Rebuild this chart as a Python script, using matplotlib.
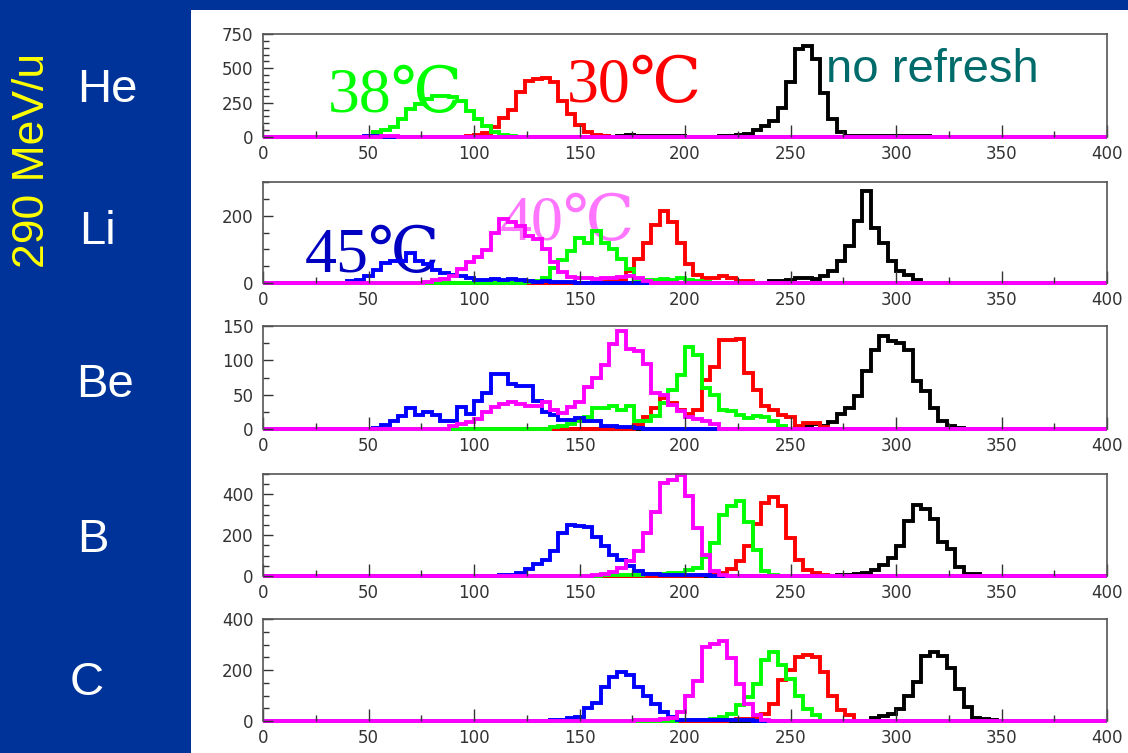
import numpy as np
import matplotlib
matplotlib.use("Agg")
import matplotlib.pyplot as plt
from matplotlib.ticker import MultipleLocator
from matplotlib.patches import Rectangle

# histogram counts, bins of width 4 from 0 to 400
# each series: first bin start, then counts

# He
he_black_x0 = 160
he_black = [5, 0, 10, 15, 10, 10, 8, 5, 5, 5, 3, 0, 0, 3, 5, 10, 15, 20, 50, 80,
            120, 210, 400, 640, 660, 570, 320, 130, 40, 10, 5, 5, 5, 5, 5, 5, 5, 5, 5]
he_red_x0 = 96
he_red = [5, 15, 30, 70, 140, 200, 330, 410, 420, 430, 400, 260, 170, 90, 40, 15, 5]
he_green_x0 = 52
he_green = [36, 50, 71, 130, 202, 240, 274, 298, 298, 290, 262, 190, 131, 83, 36, 12, 5]
he_blue_x0 = 48
he_blue = [5, 8, 3]
he_magenta_x0 = 28
he_magenta = [3, 3, 3, 3, 3, 3, 3, 5, 5, 3]

# Li
li_black_x0 = 240
li_black = [6, 6, 8, 14, 14, 11, 20, 35, 65, 109, 184, 272, 163, 119, 65, 35, 25, 8]
li_red_x0 = 160
li_red = [3, 5, 8, 37, 70, 119, 172, 214, 182, 119, 55, 25, 16, 16, 20, 14, 6, 6]
li_green_x0 = 124
li_green = [3, 5, 15, 45, 67, 96, 135, 120, 155, 120, 100, 72, 42, 13, 10, 8, 12, 10, 15, 10, 5, 3]
li_blue_x0 = 40
li_blue = [5, 10, 20, 40, 60, 65, 65, 90, 65, 55, 40, 30, 25, 20, 15, 8, 10, 12, 10, 12,
           8, 5, 3, 5, 3, 3, 2]
li_magenta_x0 = 76
li_magenta = [3, 8, 12, 20, 42, 62, 78, 98, 150, 189, 180, 170, 140, 130, 101, 62, 32, 18,
              15, 15, 12, 15, 15, 18, 20, 15, 5]

# Be
be_black_x0 = 252
be_black = [3, 5, 8, 4, 10, 22, 30, 48, 85, 115, 135, 128, 125, 115, 70, 55, 30, 12, 5, 2]
be_red_x0 = 176
be_red = [6, 18, 31, 45, 38, 28, 22, 28, 72, 91, 130, 130, 131, 82, 57, 33, 28, 20, 18, 5,
          9, 9, 3]
be_green_x0 = 136
be_green = [3, 5, 8, 12, 18, 30, 30, 33, 28, 33, 12, 12, 19, 38, 57, 79, 120, 108, 60, 50,
            28, 26, 21, 16, 19, 17, 11, 5]
be_blue_x0 = 52
be_blue = [2, 6, 12, 19, 30, 20, 25, 20, 12, 12, 32, 22, 41, 53, 80, 80, 66, 63, 63, 41,
           25, 20, 13, 13, 16, 12, 12, 5, 5, 3, 3, 2]
be_magenta_x0 = 88
be_magenta = [5, 7, 10, 14, 25, 32, 36, 40, 36, 33, 33, 40, 27, 23, 32, 39, 61, 74, 93, 124,
              142, 117, 113, 94, 52, 49, 35, 26, 18, 14, 11, 7]

# B
b_black_x0 = 272
b_black = [3, 5, 10, 16, 28, 54, 90, 147, 270, 348, 327, 278, 167, 131, 44, 8, 8, 2]
b_red_x0 = 208
b_red = [3, 5, 16, 32, 72, 149, 257, 358, 385, 345, 185, 80, 27, 16, 3]
b_green_x0 = 160
b_green = [3, 3, 5, 5, 5, 8, 8, 11, 16, 16, 27, 40, 92, 161, 297, 345, 370, 265, 128, 24, 5]
b_blue_x0 = 112
b_blue = [3, 5, 16, 32, 59, 80, 124, 209, 250, 245, 241, 193, 145, 104, 77, 48, 24, 11, 8,
          5, 5, 4, 4, 3, 3, 2, 2]
b_magenta_x0 = 156
b_magenta = [5, 8, 19, 40, 72, 124, 209, 316, 458, 470, 495, 394, 236, 104, 24, 5]

# C
c_black_x0 = 288
c_black = [11, 20, 27, 47, 100, 153, 253, 270, 253, 207, 127, 53, 13, 7, 2]
c_red_x0 = 220
c_red = [5, 9, 9, 16, 29, 68, 160, 199, 251, 257, 251, 192, 100, 42, 22]
c_green_x0 = 196
c_green = [2, 3, 3, 5, 6, 16, 29, 61, 94, 146, 238, 270, 218, 166, 100, 48, 22]
c_blue_x0 = 136
c_blue = [2, 5, 12, 15, 50, 70, 133, 172, 192, 182, 133, 100, 68, 35, 16, 5, 3, 3, 3, 3,
          3, 3, 2, 2]
c_magenta_x0 = 176
c_magenta = [3, 4, 5, 9, 10, 35, 100, 155, 290, 303, 312, 247, 146, 68, 22, 3]

ions = ["He", "Li", "Be", "B", "C"]
ymax = [750, 300, 150, 500, 400]
ymajor = [250, 200, 50, 200, 200]
yminor = [50, 50, 25, 50, 50]

edges = np.arange(0, 404, 4)


def fill(x0, counts):
    h = np.zeros(len(edges) - 1)
    i = x0 // 4
    h[i:i + len(counts)] = counts
    return h


panels = [
    [(he_black_x0, he_black), (he_red_x0, he_red), (he_green_x0, he_green),
     (he_blue_x0, he_blue), (he_magenta_x0, he_magenta)],
    [(li_black_x0, li_black), (li_red_x0, li_red), (li_green_x0, li_green),
     (li_blue_x0, li_blue), (li_magenta_x0, li_magenta)],
    [(be_black_x0, be_black), (be_red_x0, be_red), (be_green_x0, be_green),
     (be_blue_x0, be_blue), (be_magenta_x0, be_magenta)],
    [(b_black_x0, b_black), (b_red_x0, b_red), (b_green_x0, b_green),
     (b_blue_x0, b_blue), (b_magenta_x0, b_magenta)],
    [(c_black_x0, c_black), (c_red_x0, c_red), (c_green_x0, c_green),
     (c_blue_x0, c_blue), (c_magenta_x0, c_magenta)],
]
colors = ["black", "#ff0000", "#00ff00", "#0000ff", "#ff00ff"]

W, H = 1128, 753
fig = plt.figure(figsize=(W / 100, H / 100), dpi=100, facecolor="#003399")
fig.patches.append(Rectangle((191 / W, 0), 1 - 191 / W, 1 - 10 / H,
                             transform=fig.transFigure, facecolor="white",
                             edgecolor="none", zorder=-10))

tick_font = ["Liberation Sans Narrow", "DejaVu Sans"]
# pixel tops / bottoms of each panel
tops = [34, 182, 326, 474, 619]
bottoms = [137, 283, 429, 576, 721]

for k in range(5):
    ax = fig.add_axes([263 / W, 1 - bottoms[k] / H, (1107 - 263) / W,
                       (bottoms[k] - tops[k]) / H])
    ax.set_zorder(1)
    ax.patch.set_alpha(0)
    for (x0, counts), c in zip(panels[k], colors):
        ax.stairs(fill(x0, counts), edges, color=c, lw=2.8, baseline=0,
                  clip_on=False)
    ax.set_xlim(0, 400)
    ax.set_ylim(0, ymax[k])
    ax.xaxis.set_major_locator(MultipleLocator(50))
    ax.xaxis.set_minor_locator(MultipleLocator(25))
    ax.yaxis.set_major_locator(MultipleLocator(ymajor[k]))
    ax.yaxis.set_minor_locator(MultipleLocator(yminor[k]))
    ax.tick_params(axis="x", which="major", direction="in", length=9, width=1,
                   color="#333333", pad=6, labelsize=12, labelcolor="#333333")
    ax.tick_params(axis="x", which="minor", direction="in", length=4.5, width=1,
                   color="#333333")
    ax.tick_params(axis="y", which="major", direction="in", length=7, width=1,
                   color="#333333", pad=7, labelsize=12, labelcolor="#333333")
    ax.tick_params(axis="y", which="minor", direction="in", length=4.5, width=1,
                   color="#333333")
    for lab in ax.get_xticklabels() + ax.get_yticklabels():
        lab.set_family(tick_font)
    for s in ax.spines.values():
        s.set_color("#555555")
        s.set_linewidth(1.2)
    ax.spines["bottom"].set_visible(False)

# side labels
fig.text(33 / W, 1 - 160 / H, "290 MeV/u", color="yellow", fontsize=32,
         rotation=90, ha="center", va="center", family="Liberation Sans")
label_pos = [(107, 90), (97, 232), (105, 385), (93, 540), (87, 683)]
for name, (px, py) in zip(ions, label_pos):
    fig.text(px / W, 1 - py / H, name, color="white", fontsize=34,
             ha="center", va="center", family="Liberation Sans")

# temperature labels
serif = ["Liberation Serif", "DejaVu Serif", "Noto Sans CJK JP"]
fig.text(328 / W, 1 - 112 / H, "38℃", color="#00ff00", fontsize=46,
         family=serif, va="baseline", zorder=0)
fig.text(567 / W, 1 - 102 / H, "30℃", color="#ff0000", fontsize=46,
         family=serif, va="baseline", zorder=0)
fig.text(826 / W, 1 - 82 / H, "no refresh", color="#006b6b", fontsize=34,
         family="Liberation Sans", va="baseline", zorder=0)
fig.text(305 / W, 1 - 272 / H, "45℃", color="#0000c0", fontsize=46,
         family=serif, va="baseline", zorder=0)
fig.text(500 / W, 1 - 240 / H, "40℃", color="#ff66ff", fontsize=46,
         family=serif, va="baseline", alpha=0.9, zorder=0)

plt.savefig("out.png", dpi=100, facecolor=fig.get_facecolor())
